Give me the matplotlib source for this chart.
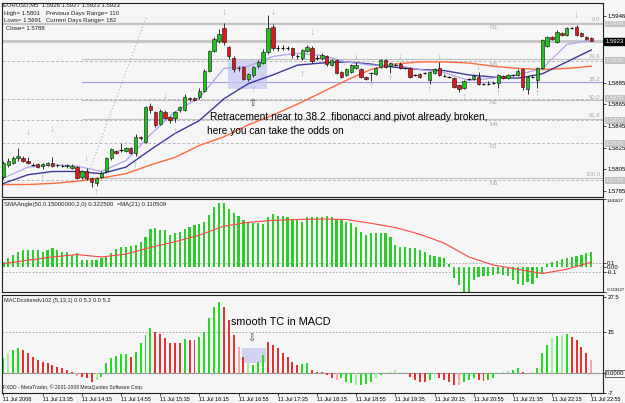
import numpy as np
import matplotlib.pyplot as plt
import matplotlib.transforms as mtransforms
from matplotlib.patches import Rectangle

plt.rcParams['font.family'] = ['Liberation Sans', 'DejaVu Sans']

# ---- EURUSD M5 candles, 11 Jul 2008 12:55 .. 22:55
opens = [
    1.5798, 1.5809, 1.5811, 1.5815, 1.5815, 1.5813, 1.5809, 1.5810, 1.5808, 1.5809,
    1.5811, 1.5809, 1.5808, 1.5808, 1.5806, 1.5807, 1.5798, 1.5803, 1.5797, 1.5792,
    1.5798, 1.5803, 1.5815, 1.5822, 1.5823, 1.5822, 1.5825, 1.5820, 1.5835, 1.5830,
    1.5863, 1.5858, 1.5847, 1.5858, 1.5853, 1.5852, 1.5860, 1.5860, 1.5871, 1.5871,
    1.5872, 1.5877, 1.5896, 1.5914, 1.5923, 1.5935, 1.5918, 1.5908, 1.5898, 1.5899,
    1.5888, 1.5892, 1.5900, 1.5903, 1.5913, 1.5936, 1.5917, 1.5917, 1.5917, 1.5917,
    1.5909, 1.5908, 1.5914, 1.5917, 1.5908, 1.5908, 1.5909, 1.5901, 1.5906, 1.5895,
    1.5892, 1.5895, 1.5898, 1.5897, 1.5890, 1.5894, 1.5893, 1.5899, 1.5906, 1.5900,
    1.5901, 1.5902, 1.5898, 1.5898, 1.5892, 1.5893, 1.5894, 1.5887, 1.5894, 1.5898,
    1.5891, 1.5890, 1.5889, 1.5883, 1.5880, 1.5888, 1.5888, 1.5890, 1.5884, 1.5884,
    1.5885, 1.5885, 1.5891, 1.5889, 1.5892, 1.5892, 1.5897, 1.5879, 1.5890, 1.5887,
    1.5898, 1.5919, 1.5927, 1.5922, 1.5931, 1.5929, 1.5935, 1.5936, 1.5931, 1.5927,
    1.5926]
closes = [
    1.5811, 1.5813, 1.5815, 1.5817, 1.5813, 1.5811, 1.5809, 1.5807, 1.5810, 1.5811,
    1.5808, 1.5809, 1.5808, 1.5809, 1.5808, 1.5797, 1.5803, 1.5797, 1.5793, 1.5797,
    1.5802, 1.5815, 1.5824, 1.5820, 1.5823, 1.5825, 1.5820, 1.5835, 1.5834, 1.5862,
    1.5860, 1.5846, 1.5859, 1.5852, 1.5850, 1.5858, 1.5862, 1.5872, 1.5870, 1.5869,
    1.5877, 1.5896, 1.5914, 1.5925, 1.5930, 1.5922, 1.5909, 1.5897, 1.5898, 1.5888,
    1.5893, 1.5899, 1.5904, 1.5913, 1.5935, 1.5917, 1.5917, 1.5917, 1.5917, 1.5910,
    1.5909, 1.5915, 1.5918, 1.5905, 1.5908, 1.5910, 1.5902, 1.5906, 1.5894, 1.5890,
    1.5897, 1.5901, 1.5901, 1.5890, 1.5888, 1.5894, 1.5898, 1.5906, 1.5899, 1.5903,
    1.5901, 1.5898, 1.5898, 1.5890, 1.5892, 1.5890, 1.5894, 1.5895, 1.5897, 1.5892,
    1.5891, 1.5890, 1.5881, 1.5879, 1.5886, 1.5888, 1.5891, 1.5884, 1.5884, 1.5884,
    1.5885, 1.5892, 1.5889, 1.5892, 1.5892, 1.5896, 1.5881, 1.5890, 1.5890, 1.5898,
    1.5924, 1.5927, 1.5925, 1.5932, 1.5929, 1.5935, 1.5935, 1.5929, 1.5928, 1.5925,
    1.5923]
highs = [
    1.5813, 1.5815, 1.5817, 1.5825, 1.5817, 1.5816, 1.5811, 1.5811, 1.5811, 1.5812,
    1.5816, 1.5810, 1.5810, 1.5810, 1.5810, 1.5808, 1.5804, 1.5806, 1.5798, 1.5798,
    1.5803, 1.5816, 1.5825, 1.5823, 1.5829, 1.5826, 1.5826, 1.5838, 1.5836, 1.5863,
    1.5866, 1.5859, 1.5861, 1.5860, 1.5854, 1.5859, 1.5863, 1.5874, 1.5872, 1.5872,
    1.5880, 1.5897, 1.5915, 1.5927, 1.5934, 1.5940, 1.5919, 1.5909, 1.5900, 1.5900,
    1.5894, 1.5900, 1.5906, 1.5916, 1.5947, 1.5939, 1.5920, 1.5920, 1.5919, 1.5918,
    1.5911, 1.5916, 1.5920, 1.5919, 1.5910, 1.5912, 1.5910, 1.5907, 1.5907, 1.5896,
    1.5898, 1.5902, 1.5904, 1.5898, 1.5891, 1.5895, 1.5899, 1.5907, 1.5907, 1.5904,
    1.5903, 1.5904, 1.5899, 1.5899, 1.5893, 1.5894, 1.5895, 1.5896, 1.5898, 1.5904,
    1.5893, 1.5891, 1.5890, 1.5884, 1.5887, 1.5889, 1.5892, 1.5895, 1.5885, 1.5886,
    1.5886, 1.5893, 1.5892, 1.5893, 1.5893, 1.5897, 1.5898, 1.5891, 1.5892, 1.5899,
    1.5925, 1.5928, 1.5928, 1.5933, 1.5932, 1.5936, 1.5936, 1.5938, 1.5932, 1.5928,
    1.5927]
lows = [
    1.5796, 1.5807, 1.5810, 1.5813, 1.5812, 1.5810, 1.5808, 1.5806, 1.5805, 1.5808,
    1.5807, 1.5807, 1.5807, 1.5806, 1.5805, 1.5796, 1.5796, 1.5795, 1.5789, 1.5790,
    1.5797, 1.5802, 1.5814, 1.5819, 1.5821, 1.5821, 1.5819, 1.5817, 1.5832, 1.5829,
    1.5857, 1.5844, 1.5846, 1.5851, 1.5848, 1.5849, 1.5858, 1.5859, 1.5868, 1.5868,
    1.5870, 1.5876, 1.5895, 1.5913, 1.5921, 1.5920, 1.5907, 1.5895, 1.5896, 1.5887,
    1.5886, 1.5890, 1.5898, 1.5902, 1.5911, 1.5915, 1.5914, 1.5915, 1.5915, 1.5908,
    1.5907, 1.5906, 1.5913, 1.5903, 1.5906, 1.5906, 1.5900, 1.5900, 1.5893, 1.5889,
    1.5891, 1.5894, 1.5897, 1.5889, 1.5887, 1.5886, 1.5892, 1.5898, 1.5898, 1.5894,
    1.5900, 1.5897, 1.5897, 1.5889, 1.5891, 1.5889, 1.5893, 1.5884, 1.5893, 1.5891,
    1.5890, 1.5889, 1.5880, 1.5876, 1.5879, 1.5887, 1.5887, 1.5883, 1.5883, 1.5883,
    1.5884, 1.5880, 1.5888, 1.5888, 1.5891, 1.5891, 1.5878, 1.5874, 1.5889, 1.5880,
    1.5897, 1.5918, 1.5924, 1.5921, 1.5928, 1.5928, 1.5934, 1.5928, 1.5927, 1.5924,
    1.5923]

# moving averages read every 5 bars
ma_bars = list(range(0, 121, 5))
ma_fast = [1.5797, 1.5807, 1.5809, 1.5808, 1.5803, 1.5813, 1.5837, 1.5858, 1.5871, 1.5898,
           1.5900, 1.5909, 1.5912, 1.5910, 1.5904, 1.5901, 1.5901, 1.5897, 1.5894, 1.5887,
           1.5889, 1.5892, 1.5898, 1.5920, 1.5924]
ma_mid = [1.5792, 1.5800, 1.5803, 1.5803, 1.5801, 1.5807, 1.5823, 1.5838, 1.5850, 1.5870,
          1.5884, 1.5892, 1.5901, 1.5903, 1.5904, 1.5902, 1.5899, 1.5897, 1.5896, 1.5892,
          1.5890, 1.5889, 1.5893, 1.5904, 1.5915]
ma_slow = [1.5791, 1.5791, 1.5792, 1.5794, 1.5797, 1.5801, 1.5809, 1.5816, 1.5827, 1.5835,
           1.5846, 1.5855, 1.5865, 1.5876, 1.5887, 1.5897, 1.5902, 1.5904, 1.5904, 1.5903,
           1.5900, 1.5898, 1.5897, 1.5898, 1.5900]

# fractals
frac_dn_bars = [5, 10, 17, 33, 45, 55, 63, 72, 81, 89, 97, 117]
frac_dn_price = [1.5835, 1.5838, 1.5811, 1.5868, 1.5945, 1.5945, 1.5927, 1.5904, 1.5904, 1.5904, 1.5895, 1.5943]
frac_up_bars = [8, 19, 27, 35, 51, 61, 75, 79, 87, 94, 101, 109]
frac_up_price = [1.5802, 1.5789, 1.5814, 1.5845, 1.5883, 1.5897, 1.5886, 1.5894, 1.5884, 1.5876, 1.5880, 1.5880]

# pivots and fibonacci
pivot_names = ['R3', 'M5', 'R2', 'M4', 'R1', 'M3']
pivot_levels = [1.5939, 1.5905, 1.5870, 1.5850, 1.5829, 1.5795]
fib_names = ['0.0', '23.6', '38.2', '50.0', '61.8', '100.0']
fib_ratios = [0.0, 0.236, 0.382, 0.5, 0.618, 1.0]
fib_high, fib_low = 1.5940, 1.5797
fib_trend_bars = [17, 29.3]
fib_trend_price = [1.5797, 1.5947]
bid = 1.5923
price_ticks = [1.5946, 1.5885, 1.5865, 1.5845, 1.5825, 1.5805, 1.5785]

# SMAAngle histogram + MA(21)
sma_angle = [
    0.12, 0.19, 0.26, 0.33, 0.36, 0.36, 0.36, 0.36, 0.33, 0.36,
    0.40, 0.36, 0.33, 0.33, 0.26, 0.30, 0.15, 0.15, 0.15, 0.15,
    0.19, 0.22, 0.30, 0.38, 0.44, 0.44, 0.45, 0.47, 0.54, 0.65,
    0.80, 0.82, 0.79, 0.79, 0.68, 0.72, 0.75, 0.80, 0.86, 0.89,
    0.91, 0.96, 1.10, 1.28, 1.36, 1.35, 1.24, 1.14, 1.08, 1.00,
    0.96, 0.93, 0.93, 0.91, 1.07, 1.12, 1.08, 1.08, 1.07, 1.00,
    1.00, 0.96, 1.07, 1.07, 1.07, 1.07, 1.08, 1.07, 1.03, 1.00,
    0.96, 0.93, 0.86, 0.75, 0.68, 0.72, 0.72, 0.72, 0.72, 0.65,
    0.47, 0.44, 0.42, 0.40, 0.40, 0.36, 0.33, 0.26, 0.24, 0.22,
    0.19, 0.08, -0.23, -0.37, -0.55, -0.55, -0.27, -0.20, -0.18, -0.18,
    -0.16, -0.13, -0.16, -0.18, -0.27, -0.34, -0.37, -0.30, -0.34, -0.23,
    -0.13, 0.07, 0.12, 0.14, 0.17, 0.19, 0.22, 0.24, 0.26, 0.30,
    0.32]
sma_ma = [0.08, 0.15, 0.22, 0.27, 0.22, 0.28, 0.42, 0.54, 0.68, 0.87,
          0.95, 0.99, 1.01, 1.02, 1.01, 0.93, 0.84, 0.70, 0.51, 0.22,
          0.05, -0.04, -0.13, -0.04, 0.11]

# MACD colored
macd = [
    5.4, 7.2, 8.4, 9.2, 8.4, 7.2, 5.9, 4.8, 3.9, 3.6,
    3.0, 2.4, 1.8, 1.2, 0.3, -0.9, -1.2, -1.8, -3.2, -2.4,
    -1.2, 3.6, 5.4, 6.3, 6.8, 6.8, 5.9, 7.8, 10.8, 13.8,
    16.2, 15.0, 14.0, 12.6, 10.8, 10.8, 10.8, 12.4, 12.0, 12.0,
    13.2, 15.0, 19.8, 23.7, 25.8, 23.7, 19.2, 13.8, 9.6, 5.9,
    3.6, 3.0, 3.9, 6.6, 11.4, 10.2, 9.0, 7.2, 5.9, 4.2,
    3.0, 3.2, 3.6, 1.2, 0.6, 0.3, -0.6, -1.6, -2.4, -1.8,
    -3.0, -3.6, -4.2, -4.2, -4.0, -3.0, -1.8, -0.6, 0.1, 0.6,
    1.2, 0.3, 0.1, -1.2, -2.4, -3.0, -3.2, -2.4, -1.8, -1.8,
    -2.4, -3.0, -4.2, -4.2, -3.0, -2.4, -1.8, -2.4, -2.8, -2.4,
    -1.6, 0.1, 0.3, 0.8, 1.2, 1.8, 0.3, 0.1, 0.3, 1.8,
    7.2, 10.2, 12.6, 13.6, 13.8, 14.0, 13.2, 12.0, 9.6, 7.2,
    4.8]
macd_codes = ("GgGGRRRRRR" "RRRRRrRRRg" "GGGGGGRGGG" "GRRRRRRGRR" "GGGGGRRRrR"
              "gGGGRRRRRR" "RGGRRRRRrG" "GGgGGGgGgg" "gggRRRRGgR" "RRRrGGGRRG"
              "GgggGGRggG" "GGgGgGRRRR" "r")

time_labels = ['11 Jul 2008', '11 Jul 13:35', '11 Jul 14:15', '11 Jul 14:55', '11 Jul 15:35',
               '11 Jul 16:15', '11 Jul 16:55', '11 Jul 17:35', '11 Jul 18:15', '11 Jul 18:55',
               '11 Jul 19:35', '11 Jul 20:15', '11 Jul 20:55', '11 Jul 21:35', '11 Jul 22:15',
               '11 Jul 22:55']
time_ticks = list(range(0, 121, 8))

bars = np.arange(len(closes))
bg = '#f6f6f6'
grey = '#b8b8b8'

fig = plt.figure(figsize=(6.25, 4.03), dpi=100, facecolor=bg)
ax1 = fig.add_axes([0.0032, 0.5112, 0.9616, 0.4814])
ax2 = fig.add_axes([0.0032, 0.2754, 0.9616, 0.2308], sharex=ax1)
ax3 = fig.add_axes([0.0032, 0.0248, 0.9616, 0.2432], sharex=ax1)

for ax in (ax1, ax2, ax3):
    ax.set_facecolor(bg)
    for s in ax.spines.values():
        s.set_color('#202020')
        s.set_linewidth(0.8)
    ax.yaxis.tick_right()
    ax.tick_params(axis='y', labelsize=4.3, length=2, pad=1.5, width=0.5)
    ax.tick_params(axis='x', labelsize=4, length=2, pad=1, width=0.5)
ax1.tick_params(axis='x', bottom=False, labelbottom=False)
ax2.tick_params(axis='x', bottom=False, labelbottom=False)
ax1.set_xlim(-0.3, 122.4)

# ---------- main chart
ax1.set_ylim(1.57795, 1.59583)
trans1 = mtransforms.blended_transform_factory(ax1.transAxes, ax1.transData)

for name, lvl in zip(pivot_names, pivot_levels):
    ax1.axhline(lvl, color=grey, lw=0.7, ls=(0, (3, 2)), zorder=1)
    ax1.text(100, lvl - 0.0001, name, fontsize=4.3, color='#a8a8a8', ha='center', va='top')
    ax1.text(1.004, lvl, f'{lvl:.4f}', transform=trans1, fontsize=4.3, color='#eeeeee',
             ha='left', va='center', clip_on=False,
             bbox=dict(boxstyle='square,pad=0.15', fc='#c2c2c2', ec='none'))
ax1.axhline(pivot_levels[0], color='#c4c4c4', lw=1.6, zorder=1)
ax1.axhline(bid, color='#c4c4c4', lw=2.0, zorder=1)

for name, r in zip(fib_names, fib_ratios):
    lvl = fib_high - r * (fib_high - fib_low)
    col = '#9c9ce0' if name == '38.2' else '#c0c0c0'
    ax1.plot([16, 122.4], [lvl, lvl], color=col, lw=0.8, zorder=1)
    ax1.text(121.9, lvl + 0.00005, name, fontsize=4.3, color='#a8a8a8', ha='right', va='bottom')
ax1.plot(fib_trend_bars, fib_trend_price, color='#b0b0b0', lw=0.8, ls=(0, (1, 2)), zorder=1)

ax1.add_patch(Rectangle((45.9, 1.5879), 8.0, 0.0027, fc='#c9c9f2', ec='none', alpha=0.8, zorder=1))

ax1.plot(ma_bars, ma_slow, color='#ff6a3a', lw=1.0, zorder=2)
ax1.plot(ma_bars, ma_mid, color='#3a3a9a', lw=1.0, zorder=2)
ax1.plot(ma_bars, ma_fast, color='#b0a4ec', lw=0.9, zorder=2)

for i in bars:
    o, c = opens[i], closes[i]
    ax1.vlines(i, lows[i], highs[i], color='#101010', lw=0.6, zorder=3)
    if c == o:
        ax1.hlines(o, i - 0.35, i + 0.35, color='#101010', lw=0.8, zorder=4)
    else:
        col = '#1ec31e' if c > o else '#dd1a1a'
        ax1.add_patch(Rectangle((i - 0.34, min(o, c)), 0.68, abs(c - o), fc=col,
                                ec='#101010', lw=0.4, zorder=4))

for b, p in zip(frac_dn_bars, frac_dn_price):
    ax1.text(b, p, '↓', fontsize=7.5, fontweight='bold', color='#b4b4b4', ha='center', va='bottom', zorder=2)
for b, p in zip(frac_up_bars, frac_up_price):
    ax1.text(b, p, '↑', fontsize=7.5, fontweight='bold', color='#b4b4b4', ha='center', va='top', zorder=2)

ax1.set_yticks(price_ticks)
ax1.set_yticklabels([f'{p:.4f}' for p in price_ticks])
ax1.text(1.004, bid, f'{bid:.4f}', transform=trans1, fontsize=4.3, color='white', ha='left',
         va='center', clip_on=False, bbox=dict(boxstyle='square,pad=0.2', fc='black', ec='black'))

hdr = dict(transform=ax1.transAxes, fontsize=4.3, color='#202020', va='center')
ax1.text(0.002, 0.990, 'EURUSD,M5  1.5926 1.5927 1.5923 1.5923', **hdr)
ax1.text(0.004, 0.948, 'High= 1.5801', **hdr)
ax1.text(0.073, 0.948, 'Previous Days Range= 110', **hdr)
ax1.text(0.004, 0.912, 'Lows= 1.5691', **hdr)
ax1.text(0.073, 0.912, 'Current Days Range= 182', **hdr)
ax1.text(0.006, 0.871, 'Close= 1.5788', **hdr)

ax1.text(42.2, 1.5853, 'Retracement near to 38.2  fibonacci and pivot already broken,',
         fontsize=7.3, color='black', va='center', ha='left', zorder=6)
ax1.text(41.6, 1.5840, 'here you can take the odds on', fontsize=7.3, color='black',
         va='center', ha='left', zorder=6)
ax1.text(50.8, 1.5866, '⇧', fontsize=7, color='#404040', ha='center', va='center',
         family=['DejaVu Sans'], zorder=6)

# ---------- SMAAngle panel
ax2.set_ylim(-0.519127, 1.441627)
ax2.bar(bars, sma_angle, width=0.45, color='#2ccc2c', zorder=2)
ax2.plot(ma_bars, sma_ma, color='#ff4444', lw=0.8, zorder=3)
for lvl in (0.1, -0.1):
    ax2.axhline(lvl, color='#a0a0a0', lw=0.6, ls=(0, (2, 2)), zorder=1)
ax2.set_yticks([1.441627, 0.1, 0.0, -0.1, -0.519127])
ax2.set_yticklabels(['1.441627', '0.1', '0.00', '-0.1', '-0.519127'])
ax2.tick_params(axis='y', pad=0.8)
for k in (0, -1):
    ax2.get_yticklabels()[k].set_fontsize(2.9)
ax2.get_yticklabels()[0].set_va('top')
ax2.get_yticklabels()[-1].set_va('bottom')
ax2.text(0.004, 0.946, 'SMAAngle(50,0.15000000,2,0) 0.322500  =MA(21) 0.110509',
         transform=ax2.transAxes, fontsize=4.3, color='#202020', va='center')

# ---------- MACD panel
ax3.set_ylim(-7.1, 28.2)
cmap = {'G': '#22dd22', 'g': '#a6eea6', 'R': '#e83232', 'r': '#f2a6a6'}
ax3.bar(bars, macd, width=0.4, color=[cmap[k] for k in macd_codes], zorder=2)
ax3.axhline(0, color='#9a9a9a', lw=0.8, zorder=1)
ax3.axhline(15, color='#a0a0a0', lw=0.6, ls=(0, (2, 2)), zorder=1)
ax3.add_patch(Rectangle((48.6, 3.7), 4.9, 5.4, fc='#c9c9f2', ec='none', alpha=0.8, zorder=1))
ax3.set_yticks([27.5, 15, 0, -7])
ax3.set_yticklabels(['27.5', '15', '', '-7'])
trans3 = mtransforms.blended_transform_factory(ax3.transAxes, ax3.transData)
ax3.text(1.004, 0, '0.0000', transform=trans3, fontsize=4.3, color='black', ha='left',
         va='center', clip_on=False, bbox=dict(boxstyle='square,pad=0.15', fc=bg, ec='#303030', lw=0.5))
ax3.text(0.004, 0.939, 'MACDcoloredv102 (5,13,1) 0.0 5.2 0.0 5.2',
         transform=ax3.transAxes, fontsize=4.1, color='#202020', va='center')
ax3.text(0.002, 0.061, 'FXDD - MetaTrader, © 2001-2008 MetaQuotes Software Corp.',
         transform=ax3.transAxes, fontsize=3.6, color='#202020', va='center')
ax3.text(46.5, 18.5, 'smooth TC in MACD', fontsize=7.8, color='black', ha='left', va='center', zorder=6)
ax3.text(50.6, 12.7, '⇩', fontsize=7, color='#404040', ha='center', va='center',
         family=['DejaVu Sans'], zorder=6)

ax3.set_xticks(time_ticks)
ax3.set_xticklabels(time_labels, ha='left')

fig.savefig('out.png', dpi=100, facecolor=bg)
